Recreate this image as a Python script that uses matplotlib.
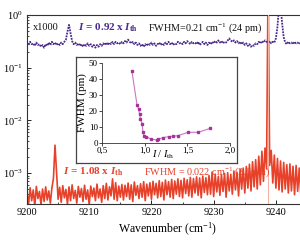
import numpy as np
import matplotlib
matplotlib.use("Agg")
import matplotlib.pyplot as plt
from matplotlib.ticker import LogLocator, MultipleLocator, NullFormatter

plt.rcParams['font.family'] = ['Liberation Serif', 'DejaVu Serif']
plt.rcParams['mathtext.fontset'] = 'custom'
plt.rcParams['mathtext.rm'] = 'Liberation Serif'
plt.rcParams['mathtext.it'] = 'Liberation Serif:italic'
plt.rcParams['mathtext.bf'] = 'Liberation Serif:bold'
plt.rcParams['mathtext.bfit'] = 'Liberation Serif:italic:bold'

# ---- data ----
wn_start, wn_step = 9200.0, 0.25
# I = 1.08 Ith spectrum, units of 1e-4
red_1e4 = [
    4.2, 2.6, 5.3, 3.0,   4.8, 2.4, 5.6, 3.3,   4.5, 2.5, 5.0, 2.9,   5.5, 3.1, 4.6, 2.7,   # 9200-9203
    5.2, 8.0, 34, 10,     3.2, 5.4, 2.8, 5.8,   3.4, 4.9, 2.6, 5.5,   3.0, 6.0, 3.3, 4.7,   # 9204-9207
    2.7, 5.6, 3.5, 5.1,   2.9, 5.9, 3.2, 4.8,   2.5, 5.7, 3.6, 5.2,   3.0, 6.2, 3.4, 5.0,   # 9208-9211
    2.8, 5.8, 3.3, 6.4,   3.1, 5.5, 3.7, 7.8,   3.2, 6.6, 3.0, 5.7,   3.5, 6.1, 3.1, 5.9,   # 9212-9215
    3.6, 6.5, 3.2, 6.0,   2.9, 6.8, 3.8, 5.8,   3.3, 6.3, 3.5, 6.9,   3.0, 6.2, 3.7, 6.6,   # 9216-9219
    3.2, 7.0, 3.9, 6.4,   3.4, 7.2, 3.6, 6.7,   3.1, 7.4, 3.9, 6.9,   3.5, 7.6, 3.3, 7.1,   # 9220-9223
    4.0, 7.8, 3.6, 7.3,   3.4, 8.0, 4.1, 7.5,   3.7, 8.3, 3.5, 7.9,   4.2, 8.5, 3.8, 8.1,   # 9224-9227
    3.4, 8.8, 4.3, 8.2,   3.9, 9.0, 4.0, 10.5,  3.6, 9.6, 4.4, 8.7,   3.8, 9.4, 4.5, 9.9,   # 9228-9231
    3.5, 10.2, 4.6, 9.5,  4.0, 11.0, 4.8, 10.4, 3.7, 11.8, 5.0, 12.5, 4.2, 13.4, 5.2, 14.8,  # 9232-9235
    4.6, 16.5, 5.5, 18.0, 5.0, 21.0, 6.0, 26.0, 7.0, 30.0, 12.0, 50000, 14.0, 27.0, 6.5, 22.0,  # 9236-9239
    5.2, 19.0, 4.8, 17.0, 4.4, 16.0, 5.0, 14.5, 4.2, 15.0, 4.6, 13.5, 3.9, 14.0, 4.5, 12.5,  # 9240-9243
    4.0, 13.0, 4.3, 12.0, 4.1,                                                            # 9244-9245
]
# I = 0.92 Ith spectrum (x1000)
purple = [
    0.30, 0.27, 0.31, 0.28,  0.29, 0.26, 0.30, 0.27,  0.28, 0.25, 0.27, 0.24,  0.28, 0.26, 0.30, 0.27,
    0.31, 0.28, 0.30, 0.27,  0.29, 0.27, 0.30, 0.28,  0.31, 0.34, 0.48, 0.65,  0.45, 0.32, 0.28, 0.30,
    0.27, 0.29, 0.26, 0.28,  0.25, 0.28, 0.26, 0.29,  0.26, 0.28, 0.25, 0.27,  0.24, 0.27, 0.25, 0.28,
    0.26, 0.29, 0.27, 0.30,  0.27, 0.30, 0.28, 0.31,  0.28, 0.31, 0.29, 0.30,  0.28, 0.31, 0.29, 0.32,
    0.30, 0.34, 0.31, 0.29,  0.31, 0.28, 0.30, 0.27,  0.29, 0.26, 0.28, 0.25,  0.28, 0.26, 0.29, 0.27,
    0.30, 0.27, 0.29, 0.26,  0.28, 0.30, 0.27, 0.29,  0.27, 0.30, 0.28, 0.31,  0.28, 0.30, 0.27, 0.29,
    0.28, 0.31, 0.29, 0.30,  0.28, 0.31, 0.29, 0.32,  0.30, 0.28, 0.31, 0.29,  0.30, 0.28, 0.31, 0.27,
    0.29, 0.31, 0.28, 0.30,  0.27, 0.30, 0.28, 0.31,  0.29, 0.32, 0.30, 0.33,  0.30, 0.32, 0.29, 0.31,
    0.30, 0.33, 0.36, 0.33,  0.31, 0.33, 0.30, 0.32,  0.29, 0.31, 0.28, 0.30,  0.27, 0.29, 0.26, 0.28,
    0.25, 0.27, 0.26, 0.29,  0.28, 0.31, 0.29, 0.32,  0.30, 0.33, 0.31, 0.30,  0.32, 0.29, 0.31, 0.30,
    0.36, 0.60, 1.40, 1.50,  0.70, 0.38, 0.30, 0.28,  0.31, 0.29, 0.30, 0.28,  0.31, 0.29, 0.30, 0.28,
    0.30, 0.29, 0.31, 0.28,  0.30,
]
laser_line = 9238.75

# inset: FWHM vs I/Ith
ratio = [0.85, 0.91, 0.93, 0.94, 0.95, 0.97, 0.98, 0.995, 1.02, 1.07, 1.14, 1.16, 1.21, 1.28, 1.33, 1.39, 1.51, 1.63, 1.77]
fwhm_pm = [45, 24, 21, 18, 15, 12, 6.7, 4.5, 4.0, 2.5, 1.9, 2.3, 3.3, 4.0, 4.2, 4.6, 6.7, 6.7, 9.2]

xticks_main = [9200, 9210, 9220, 9230, 9240]
inset_xticks = [0.5, 1.0, 1.5, 2.0]
inset_xticklabels = ['0,5', '1,0', '1,5', '2,0']
inset_yticks = [0, 10, 20, 30, 40, 50]

RED = '#e8412a'
PURPLE = '#4a2a8a'
MAG = '#a8329a'

W, H = 300, 240
fig = plt.figure(figsize=(3.0, 2.4), dpi=100)

def fa(x0, y0, x1, y1):
    return [x0 / W, 1 - y1 / H, (x1 - x0) / W, (y1 - y0) / H]

ax = fig.add_axes(fa(27, 15, 307, 204))
wn = wn_start + wn_step * np.arange(len(red_1e4))
ax.plot(wn, np.array(red_1e4) * 1e-4, color=RED, lw=1.2, zorder=2)
ax.axvline(laser_line, color='#f6b3a3', lw=0.8, zorder=3)
wn_p = wn_start + wn_step * np.arange(len(purple))
ax.plot(wn_p, purple, color=PURPLE, lw=1.3, ls=(0, (1, 0.6)), zorder=2)

ax.set_yscale('log')
ax.set_xlim(9200, 9245)
ax.set_ylim(2.6e-4, 1.0)
ax.set_xticks(xticks_main)
ax.xaxis.set_minor_locator(MultipleLocator(5))
ax.yaxis.set_major_locator(LogLocator(base=10, numticks=10))
ax.yaxis.set_minor_locator(LogLocator(base=10, subs=np.arange(2, 10), numticks=10))
ax.yaxis.set_minor_formatter(NullFormatter())
ax.tick_params(which='both', direction='in', labelsize=7.5, top=False, right=False)
ax.tick_params(which='major', length=3, width=0.6, pad=3)
ax.tick_params(which='minor', length=1.5, width=0.5)
for s in ax.spines.values():
    s.set_linewidth(0.8)
    s.set_color('#333333')
ax.set_xlabel('Wavenumber (cm$^{-1}$)', fontsize=8.5, labelpad=3)
ax.set_ylabel('Intensity (arb. units)', fontsize=8.5)
ax.yaxis.set_label_coords(-0.105, 0.55)

ax.text(9201.0, 0.57, 'x1000', fontsize=7.5, color='#111111', va='center', ha='left')
ax.text(9208.2, 0.57, r'$\mathbfit{I}\mathbf{\,=\,0.92\ x\ }\mathbfit{I}_{\mathbf{th}}$',
        fontsize=8, color=PURPLE, va='center', ha='left')
ax.text(9219.4, 0.57, r'FWHM=0.21 cm$^{-1}$ (24 pm)', fontsize=7.3, color='#111111',
        va='center', ha='left')
ax.text(9205.8, 1.05e-3, r'$\mathbfit{I}\mathbf{\,=\,1.08\ x\ }\mathbfit{I}_{\mathbf{th}}$',
        fontsize=8, color=RED, va='center', ha='left')
ax.text(9218.8, 1.05e-3, r'FWHM = 0.022 cm$^{-1}$ (2.6 pm)',
        fontsize=7.3, color=RED, va='center', ha='left')

# inset frame
frame = fig.add_axes(fa(76, 57, 237, 163))
frame.set_xticks([]); frame.set_yticks([])
frame.set_facecolor('white')
for s in frame.spines.values():
    s.set_linewidth(0.9)
    s.set_color('#444444')
frame.set_zorder(5)

ins = fig.add_axes(fa(102, 63, 230, 143))
ins.set_zorder(6)
ins.patch.set_alpha(0)
ins.plot(ratio, fwhm_pm, color='#c879bd', lw=0.8, marker='s', ms=2,
         mfc=MAG, mec=MAG)
ins.set_xlim(0.5, 2.0)
ins.set_ylim(0, 50)
ins.set_xticks(inset_xticks)
ins.set_xticklabels(inset_xticklabels)
ins.set_yticks(inset_yticks)
ins.spines['top'].set_visible(False)
ins.spines['right'].set_visible(False)
for s in ('left', 'bottom'):
    ins.spines[s].set_linewidth(0.6)
    ins.spines[s].set_color('#333333')
ins.tick_params(labelsize=6.5, length=2, width=0.5, pad=1)
ins.set_ylabel('FWHM (pm)', fontsize=8, labelpad=1)
ins.set_xlabel(r'$I\ /\ I_{\mathrm{th}}$', fontsize=7.5)
ins.xaxis.set_label_coords(0.48, -0.07)

fig.savefig('out.png', dpi=100)
